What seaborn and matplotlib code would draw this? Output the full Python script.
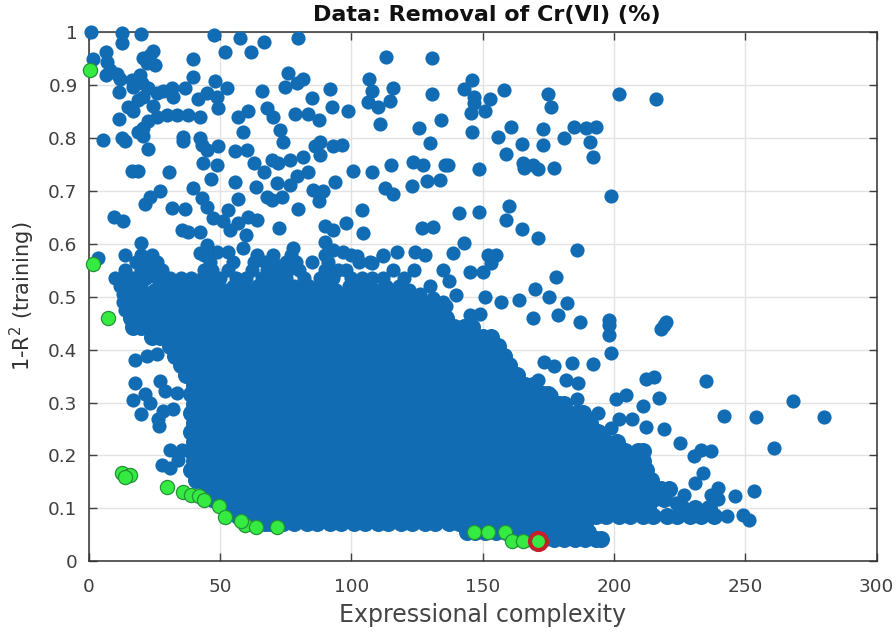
import matplotlib
matplotlib.use("Agg")
import matplotlib.pyplot as plt
import seaborn as sns

sns.set_theme(style="white")
plt.rcParams["font.family"] = ["DejaVu Sans"]
plt.rcParams["mathtext.default"] = "regular"

BLUE = "#126cb3"
GREEN = "#35ea40"
SIZE = 104
BODY_SIZE = 150

# dense body of the cloud, one list of x values per 1-R2 level
row_levels = [0.042, 0.056, 0.072, 0.085, 0.100, 0.118, 0.136, 0.154, 0.172, 0.190, 0.208, 0.226,
              0.244, 0.262, 0.280, 0.298, 0.316, 0.334, 0.352, 0.370, 0.388, 0.406, 0.424, 0.442, 0.460]
row_x = [
    [166, 169, 173, 177, 181, 185, 189, 193, 195],
    [144, 147, 151, 155, 159, 163, 167, 171, 175, 179, 183, 187, 190],
    [67, 69, 74, 78, 83, 87, 92, 96, 101, 105, 110, 114, 119, 123, 128, 132, 137, 141, 146, 150, 155, 159, 164, 168, 173, 177, 182, 186, 189],
    [57, 58, 62, 67, 71, 76, 80, 85, 89, 94, 98, 103, 107, 112, 116, 121, 125, 130, 134, 139, 143, 148, 152, 157, 161, 166, 170, 175, 179, 184, 188, 193, 197, 202, 206, 211, 215, 220, 224, 229, 233, 238],
    [53, 56, 60, 65, 69, 74, 78, 83, 87, 92, 96, 101, 105, 110, 114, 119, 123, 128, 132, 137, 141, 146, 150, 155, 159, 164, 168, 173, 177, 182, 186, 191, 195, 200, 204, 209, 213, 226, 231, 236],
    [47, 49, 53, 58, 62, 67, 71, 76, 80, 85, 89, 94, 98, 103, 107, 112, 116, 121, 125, 130, 134, 139, 143, 148, 152, 157, 161, 166, 170, 175, 179, 184, 188, 193, 197, 202, 206, 211, 215, 219],
    [45, 47, 51, 56, 60, 65, 69, 74, 78, 83, 87, 92, 96, 101, 105, 110, 114, 119, 123, 128, 132, 137, 141, 146, 150, 155, 159, 164, 168, 173, 177, 182, 186, 191, 195, 200, 204, 209, 213, 218, 221],
    [41, 44, 49, 53, 58, 62, 67, 71, 76, 80, 85, 89, 94, 98, 103, 107, 112, 116, 121, 125, 130, 134, 139, 143, 148, 152, 157, 161, 166, 170, 175, 179, 184, 188, 193, 197, 202, 206, 211, 214],
    [39, 42, 47, 51, 56, 60, 65, 69, 74, 78, 83, 87, 92, 96, 101, 105, 110, 114, 119, 123, 128, 132, 137, 141, 146, 150, 155, 159, 164, 168, 173, 177, 182, 186, 191, 195, 200, 204, 209, 212],
    [40, 44, 49, 53, 58, 62, 67, 71, 76, 80, 85, 89, 94, 98, 103, 107, 112, 116, 121, 125, 130, 134, 139, 143, 148, 152, 157, 161, 166, 170, 175, 179, 184, 188, 193, 197, 202, 206, 211],
    [39, 42, 47, 51, 56, 60, 65, 69, 74, 78, 83, 87, 92, 96, 101, 105, 110, 114, 119, 123, 128, 132, 137, 141, 146, 150, 155, 159, 164, 168, 173, 177, 182, 186, 191, 195, 200, 204, 209, 211],
    [40, 44, 49, 53, 58, 62, 67, 71, 76, 80, 85, 89, 94, 98, 103, 107, 112, 116, 121, 125, 130, 134, 139, 143, 148, 152, 157, 161, 166, 170, 175, 179, 184, 188, 193, 197, 201],
    [39, 42, 47, 51, 56, 60, 65, 69, 74, 78, 83, 87, 92, 96, 101, 105, 110, 114, 119, 123, 128, 132, 137, 141, 146, 150, 155, 159, 164, 168, 173, 177, 182, 186, 191, 194],
    [40, 44, 49, 53, 58, 62, 67, 71, 76, 80, 85, 89, 94, 98, 103, 107, 112, 116, 121, 125, 130, 134, 139, 143, 148, 152, 157, 161, 166, 170, 175, 179, 184, 188, 191],
    [39, 42, 47, 51, 56, 60, 65, 69, 74, 78, 83, 87, 92, 96, 101, 105, 110, 114, 119, 123, 128, 132, 137, 141, 146, 150, 155, 159, 164, 168, 173, 177, 182, 186, 188],
    [40, 44, 49, 53, 58, 62, 67, 71, 76, 80, 85, 89, 94, 98, 103, 107, 112, 116, 121, 125, 130, 134, 139, 143, 148, 152, 157, 161, 166, 170, 175, 179, 181],
    [39, 42, 47, 51, 56, 60, 65, 69, 74, 78, 83, 87, 92, 96, 101, 105, 110, 114, 119, 123, 128, 132, 137, 141, 146, 150, 155, 159, 164, 168, 173, 175],
    [40, 44, 49, 53, 58, 62, 67, 71, 76, 80, 85, 89, 94, 98, 103, 107, 112, 116, 121, 125, 130, 134, 139, 143, 148, 152, 157, 161, 166, 169],
    [37, 38, 42, 47, 51, 56, 60, 65, 69, 74, 78, 83, 87, 92, 96, 101, 105, 110, 114, 119, 123, 128, 132, 137, 141, 146, 150, 155, 159, 163],
    [35, 40, 44, 49, 53, 58, 62, 67, 71, 76, 80, 85, 89, 94, 98, 103, 107, 112, 116, 121, 125, 130, 134, 139, 143, 148, 152, 157, 160],
    [33, 38, 42, 47, 51, 56, 60, 65, 69, 74, 78, 83, 87, 92, 96, 101, 105, 110, 114, 119, 123, 128, 132, 137, 141, 146, 150, 155, 158],
    [31, 35, 40, 44, 49, 53, 58, 62, 67, 71, 76, 80, 85, 89, 94, 98, 103, 107, 112, 116, 121, 125, 130, 134, 139, 143, 148, 152, 156],
    [24, 27, 32, 36, 42, 47, 51, 56, 60, 65, 69, 74, 78, 83, 87, 92, 96, 101, 105, 110, 114, 119, 123, 128, 132, 137, 141, 146, 150, 153],
    [17, 20, 25, 29, 33, 38, 44, 49, 53, 58, 62, 67, 71, 76, 80, 85, 89, 94, 98, 103, 107, 112, 116, 121, 125, 130, 134, 139, 143, 146],
    [16, 19, 23, 28, 32, 37, 42, 47, 51, 56, 60, 65, 69, 74, 78, 83, 87, 92, 96, 101, 105, 110, 114, 119, 123, 128, 132, 136],
]

# speckled band above the body of the cloud
band_levels = [0.475, 0.482, 0.490, 0.497, 0.505, 0.512, 0.520, 0.535, 0.550, 0.565, 0.578]
band_x = [
    [14, 18, 23, 27, 31, 36, 40, 45, 50, 54, 60, 63, 67, 72, 77, 82, 85, 91, 96, 101, 106, 110, 116, 121, 127, 132],
    [16, 20, 25, 29, 33, 38, 43, 48, 52, 57, 61, 65, 69, 74, 79, 84, 87, 94, 98, 103, 108, 113, 118, 124, 130, 136],
    [13, 17, 22, 26, 30, 34, 38, 42, 46, 50, 54, 58, 62, 66, 70, 74, 78, 82, 88, 93, 100, 105, 110, 116, 122, 127, 135],
    [15, 20, 25, 29, 33, 37, 41, 44, 48, 52, 56, 60, 65, 69, 73, 78, 85, 90, 95, 98, 107, 112, 118, 124, 131],
    [13, 18, 23, 28, 31, 36, 39, 42, 46, 50, 53, 59, 63, 67, 71, 76, 80, 87, 91, 96, 103, 110, 115, 120, 126],
    [15, 25, 30, 35, 39, 43, 47, 52, 57, 61, 66, 71, 75, 81, 86, 94, 101, 105, 110, 115, 122],
    [12, 16, 20, 28, 33, 37, 41, 45, 49, 55, 58, 64, 69, 73, 78, 84, 89, 92, 99, 103, 107, 113, 118, 130],
    [10, 14, 17, 22, 26, 31, 35, 39, 43, 47, 50, 56, 60, 66, 70, 75, 82, 88, 93, 100, 104, 108, 112, 120],
    [14, 20, 25, 28, 44, 47, 53, 62, 68, 72, 76, 80, 90, 95, 98, 116, 124, 135],
    [18, 22, 26, 46, 55, 63, 67, 70, 75, 79, 85, 91, 103, 107],
    [14, 20, 24, 44, 64, 70, 77, 90, 100, 112],
]

# loose points around the cloud
outlier_x = [0.8, 12.8, 12.8, 19.9, 47.7, 57.6, 66.9, 61.7, 51.9, 79.8, 113, 130.8, 6.6, 1.8, 39.6, 24.6,
             6.9, 8.1, 10.7, 6.6, 11.9, 16.4, 19.4, 22.1, 20.8, 23.4, 25.2, 20.2, 17, 22.7, 25.9, 20.8, 18.9, 11.7, 15.1, 17, 24.6, 28.4, 31.6, 32.2, 36.7,
             39.6, 48.1, 52.8, 41.8, 44.9, 48.7, 49.4, 11.7, 22.7, 25.9, 29.7, 33.5, 37.9, 42.4, 20.8, 18.9, 5.6, 12.6, 13.8, 20.8, 22.7, 35.8, 35.8, 42.4, 43, 44.9, 49.4, 43.7, 48.7,
             55.7, 60.4, 62.9, 66.8, 16.4, 18.9, 30.7, 46.4, 55.7, 39.6, 63.7, 27.2, 23.4, 21.4, 43, 45.2, 56.7, 31.6, 36.7, 9.8, 12.9, 53.2, 47.5, 51.3, 53.8, 59.9, 60.8, 64, 57, 42.4, 35.4, 37.9, 72.6, 79.8,
             19.9, 44.9, 58.9, 42.4, 48.7, 53.2, 77.9, 67.8, 70.3, 72.8, 74.1, 65.9, 76, 74.7, 79.2, 81.7, 84.9, 91.9, 92.8, 98.9, 78.6, 83.6, 87.8, 57, 60.8, 58.9,
             69.7, 72.2, 76.6, 81.7, 86.2, 88.1, 88.1, 93.1, 96.3, 83.6, 79.2, 76.6, 71.6, 67.8, 69.7, 73.5, 85.5, 89.3, 93.8, 87.8, 100.8, 107.7, 115, 123.6, 127.4, 135.7, 112.8, 116, 123, 128.7, 133.8, 103.9, 126.8, 131,
             90, 93.1, 97.8, 104.6, 90, 93.1, 96.9, 102, 107.7, 112.2, 117.3, 124.2, 128, 106.9, 107.7, 116, 106.5, 110.3, 114.7, 110.9, 130.8, 134, 125.9, 130,
             145.9, 143, 146.8, 146.8, 145.6, 151, 152.9, 158, 175, 176, 202, 216, 160.8, 156, 172.8, 165, 172.8, 181, 184.9, 189.3, 193, 190.9, 191.9, 145.9, 158.9, 165.2, 169, 165.9, 171, 177, 148.7, 136.7, 199, 160, 148.7, 140.9, 158.9, 165, 171, 143, 186, 138.6, 151.9, 155, 153, 145, 150, 178, 137, 139.9, 151, 157, 164, 170, 175.4, 182,
             145, 149, 169, 178.6, 187, 198, 219.8, 219.2, 217.9, 198, 198, 198.9, 191.9, 184, 173.5, 177.3, 181.7, 186.2, 212, 215.4, 235, 217, 204.6, 200.8, 211, 268, 242, 254, 280, 261, 219, 212, 225, 230.6, 233, 237, 233.8, 231, 239.5, 237, 239.5, 246, 253.4, 226.8, 223.6, 243, 249, 251.5, 207, 202, 199, 194, 176, 186, 171,
             3.7, 17.6, 22.1, 25.9, 17.6, 21.4, 17, 23.4, 19.8, 27.2, 29, 33.5, 28.4, 32.2, 26.5, 26.9, 31, 35.4, 27.8, 31, 34]
outlier_y = [1.0, 0.998, 0.979, 0.996, 0.994, 0.988, 0.982, 0.963, 0.962, 0.989, 0.953, 0.95, 0.963, 0.949, 0.949, 0.965,
             0.944, 0.929, 0.921, 0.919, 0.911, 0.91, 0.919, 0.941, 0.951, 0.957, 0.938, 0.903, 0.897, 0.894, 0.885, 0.878, 0.872, 0.886, 0.859, 0.85, 0.861, 0.888, 0.894, 0.878, 0.894,
             0.915, 0.907, 0.895, 0.874, 0.885, 0.878, 0.856, 0.835, 0.831, 0.84, 0.844, 0.844, 0.844, 0.84, 0.818, 0.812, 0.796, 0.799, 0.795, 0.803, 0.779, 0.801, 0.795, 0.8, 0.787, 0.777, 0.785, 0.752, 0.748,
             0.776, 0.777, 0.753, 0.736, 0.738, 0.738, 0.736, 0.722, 0.717, 0.705, 0.708, 0.699, 0.689, 0.675, 0.686, 0.67, 0.685, 0.667, 0.666, 0.651, 0.642, 0.663, 0.648, 0.642, 0.626, 0.617, 0.651, 0.645, 0.639, 0.623, 0.626, 0.623, 0.629, 0.665,
             0.601, 0.598, 0.592, 0.582, 0.585, 0.584, 0.592, 0.856, 0.84, 0.815, 0.793, 0.888, 0.922, 0.896, 0.903, 0.911, 0.876, 0.893, 0.859, 0.85, 0.845, 0.845, 0.834, 0.84, 0.85, 0.811,
             0.759, 0.752, 0.759, 0.764, 0.784, 0.793, 0.768, 0.784, 0.787, 0.736, 0.727, 0.711, 0.714, 0.689, 0.683, 0.689, 0.702, 0.699, 0.716, 0.68, 0.738, 0.735, 0.748, 0.754, 0.748, 0.748, 0.705, 0.694, 0.709, 0.719, 0.721, 0.663, 0.629, 0.632,
             0.633, 0.626, 0.639, 0.62, 0.604, 0.588, 0.584, 0.576, 0.563, 0.576, 0.585, 0.584, 0.579, 0.912, 0.888, 0.894, 0.867, 0.859, 0.869, 0.826, 0.883, 0.833, 0.818, 0.791,
             0.91, 0.893, 0.878, 0.866, 0.847, 0.85, 0.874, 0.891, 0.883, 0.859, 0.883, 0.873, 0.82, 0.801, 0.817, 0.789, 0.787, 0.8, 0.82, 0.818, 0.82, 0.793, 0.764, 0.811, 0.769, 0.753, 0.749, 0.743, 0.741, 0.744, 0.742, 0.748, 0.691, 0.672, 0.66, 0.658, 0.645, 0.628, 0.61, 0.601, 0.588, 0.582, 0.579, 0.578, 0.563, 0.547, 0.547, 0.538, 0.53, 0.503, 0.499, 0.49, 0.493, 0.514, 0.499, 0.488,
             0.466, 0.467, 0.459, 0.466, 0.453, 0.456, 0.453, 0.447, 0.439, 0.447, 0.428, 0.393, 0.373, 0.375, 0.376, 0.369, 0.343, 0.336, 0.345, 0.349, 0.34, 0.309, 0.315, 0.307, 0.293, 0.302, 0.275, 0.273, 0.272, 0.215, 0.25, 0.254, 0.224, 0.198, 0.21, 0.208, 0.167, 0.148, 0.139, 0.126, 0.117, 0.123, 0.132, 0.126, 0.11, 0.085, 0.088, 0.078, 0.269, 0.268, 0.252, 0.28, 0.315, 0.306, 0.343,
             0.573, 0.381, 0.387, 0.391, 0.336, 0.316, 0.304, 0.3, 0.279, 0.34, 0.321, 0.318, 0.284, 0.287, 0.268, 0.255, 0.211, 0.21, 0.181, 0.176, 0.192]

# pareto front
front_x = [0.5, 1.5, 7.5, 12.5, 15.7, 13.8, 29.7, 35.8, 38.8, 41.9, 44, 49.7, 52, 59.5, 57.9, 63.7, 71.8, 146.8, 151.9, 158.6, 161, 165.3, 171.2]
front_y = [0.929, 0.561, 0.459, 0.167, 0.163, 0.16, 0.14, 0.131, 0.126, 0.123, 0.115, 0.104, 0.084, 0.069, 0.076, 0.064, 0.064, 0.055, 0.055, 0.055, 0.038, 0.038, 0.038]

# selected model
best_x = [171.2]
best_y = [0.038]

x_ticks = [0, 50, 100, 150, 200, 250, 300]
y_ticks = [0, 0.1, 0.2, 0.3, 0.4, 0.5, 0.6, 0.7, 0.8, 0.9, 1]
y_labels = ["0", "0.1", "0.2", "0.3", "0.4", "0.5", "0.6", "0.7", "0.8", "0.9", "1"]

body_x = []
body_y = []
for lev, xs in zip(row_levels, row_x):
    body_x += xs
    body_y += [lev] * len(xs)

loose_x = list(outlier_x)
loose_y = list(outlier_y)
for lev, xs in zip(band_levels, band_x):
    loose_x += xs
    loose_y += [lev] * len(xs)

fig = plt.figure(figsize=(8.96, 6.33), dpi=100)
ax = fig.add_axes([88.7 / 896, 1 - 561.3 / 633, 788 / 896, 529.3 / 633])

sns.scatterplot(x=body_x, y=body_y, color=BLUE, s=BODY_SIZE, linewidth=0, ax=ax, clip_on=False, zorder=3)
sns.scatterplot(x=loose_x, y=loose_y, color=BLUE, s=SIZE, linewidth=0, ax=ax, clip_on=False, zorder=3)
sns.scatterplot(x=front_x, y=front_y, color=GREEN, s=SIZE, edgecolor="#23923a", linewidth=0.9, ax=ax, clip_on=False, zorder=4)
sns.scatterplot(x=best_x, y=best_y, color=GREEN, s=150, edgecolor="#c4202b", linewidth=3.0, ax=ax, clip_on=False, zorder=5)

ax.set_xlim(0, 300)
ax.set_ylim(0, 1)
ax.set_xticks(x_ticks)
ax.set_yticks(y_ticks)
ax.set_yticklabels(y_labels)
ax.grid(True, color="#e2e2e2", linewidth=1.0)
ax.set_axisbelow(True)
ax.tick_params(direction="in", length=6, width=1, color="#404040", top=True, right=True, bottom=True, left=True,
               labelsize=13.3, labelcolor="#404040")
ax.tick_params(axis="x", pad=12)
ax.tick_params(axis="y", pad=8)
for sp in ax.spines.values():
    sp.set_color("#303030")
    sp.set_linewidth(1.1)

ax.set_title("Data: Removal of Cr(VI) (%)", fontsize=16, fontweight="bold", color="#111111", pad=8, x=0.505)
ax.set_xlabel("Expressional complexity", fontsize=17, color="#444444", labelpad=5)
ax.set_ylabel("1-R$^2$ (training)", fontsize=15, color="#333333", labelpad=8)

plt.savefig("out.png", dpi=100)
